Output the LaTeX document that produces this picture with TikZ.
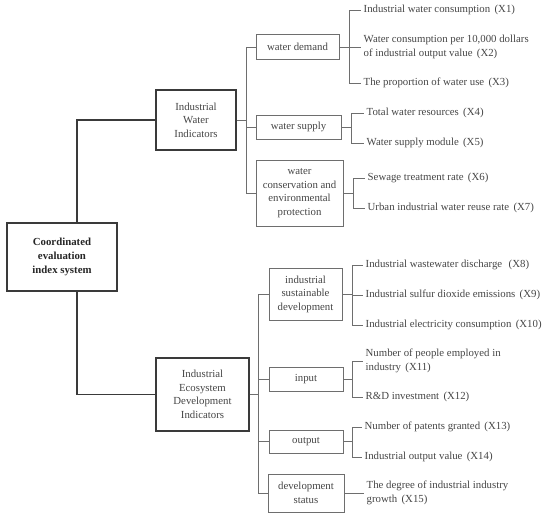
\documentclass[tikz,border=0pt]{standalone}
\usepackage{fontspec}
\setmainfont{Liberation Serif}
\usetikzlibrary{calc}
\definecolor{trunkgray}{HTML}{3A3A3A}
\definecolor{twiggray}{HTML}{6E6E6E}
\definecolor{txtgray}{HTML}{454545}

\begin{document}
\begin{tikzpicture}[x=1pt, y=-1pt,
  font=\fontsize{10.8}{13.5}\selectfont, text=txtgray,
  rootbox/.style={draw=trunkgray, line width=1.8pt, align=center, inner sep=0pt},
  mainbox/.style={draw=trunkgray, line width=1.3pt, align=center, inner sep=0pt},
  subbox/.style={draw=twiggray, line width=0.8pt, align=center, inner sep=0pt},
  leaf/.style={anchor=west, align=left, inner sep=2.5pt},
  trunk/.style={draw=trunkgray, line width=1.8pt},
  twig/.style={draw=twiggray, line width=0.8pt}]
  \useasboundingbox (0,0) rectangle (550,518);

  % root and the two main groups
  \node[rootbox, minimum width=110pt, minimum height=68pt, text=black!85] (root) at (62,257)
    {\bfseries Coordinated\\[0.5pt] \bfseries evaluation\\[0.5pt] \bfseries index system};
  \node[mainbox, minimum width=80pt, minimum height=60pt] (iwi) at (196,120)
    {Industrial\\ Water\\ Indicators};
  \node[mainbox, minimum width=93pt, minimum height=73pt] (iedi) at (202.5,394.5)
    {Industrial\\ Ecosystem\\ Development\\ Indicators};
  \draw[trunk] ($(root.north)+(15,0)$) |- (iwi.west);
  \draw[trunk] ($(root.south)+(15,0)$) |- (iedi.west);

  % (a) water indicators
  \node[subbox, minimum width=83pt, minimum height=25pt] (wd) at (297.5,47) {water demand};
  \node[subbox, minimum width=85pt, minimum height=24pt] (ws) at (298.5,127) {water supply};
  \node[subbox, minimum width=87pt, minimum height=66pt] (wcep) at (299.5,193)
    {water\\ conservation and\\ environmental\\ protection};
  \draw[twig] (iwi.east) -- ++(10,0) coordinate (b1);
  \draw[twig] (b1) |- (wd.west);
  \draw[twig] (b1) |- (ws.west);
  \draw[twig] (b1) |- (wcep.west);

  \node[leaf] (x1) at (361,10) {Industrial water consumption\hspace{0.4em}(X1)};
  \node[leaf] (x2) at (361,47) {Water consumption per 10,000 dollars\\ of industrial output value\hspace{0.4em}(X2)};
  \node[leaf] (x3) at (361,83) {The proportion of water use\hspace{0.4em}(X3)};
  \draw[twig] (wd.east) -- ++(10,0) coordinate (b2);
  \draw[twig] (b2) |- (x1.west);
  \draw[twig] (b2) -- (x2.west);
  \draw[twig] (b2) |- (x3.west);

  \node[leaf] (x4) at (364,113) {Total water resources\hspace{0.4em}(X4)};
  \node[leaf] (x5) at (364,143) {Water supply module\hspace{0.4em}(X5)};
  \draw[twig] (ws.east) -- ++(10,0) coordinate (b3);
  \draw[twig] (b3) |- (x4.west);
  \draw[twig] (b3) |- (x5.west);

  \node[leaf] (x6) at (365,178) {Sewage treatment rate\hspace{0.4em}(X6)};
  \node[leaf] (x7) at (365,208) {Urban industrial water reuse rate\hspace{0.4em}(X7)};
  \draw[twig] (wcep.east) -- ++(10,0) coordinate (b4);
  \draw[twig] (b4) |- (x6.west);
  \draw[twig] (b4) |- (x7.west);

  % (b) ecosystem development indicators
  \node[subbox, minimum width=73pt, minimum height=52pt] (isd) at (305.5,294)
    {industrial\\ sustainable\\ development};
  \node[subbox, minimum width=74pt, minimum height=24pt] (inp) at (306,379) {input};
  \node[subbox, minimum width=74pt, minimum height=23pt] (outp) at (306,441.5) {output};
  \node[subbox, minimum width=76pt, minimum height=38pt] (dev) at (306,493)
    {development\\ status};
  \draw[twig] (iedi.east) -- ++(9,0) coordinate (b5);
  \draw[twig] (b5) |- (isd.west);
  \draw[twig] (b5) |- (inp.west);
  \draw[twig] (b5) |- (outp.west);
  \draw[twig] (b5) |- (dev.west);

  \node[leaf] (x8) at (363,265) {Industrial wastewater discharge\hspace{0.6em}(X8)};
  \node[leaf] (x9) at (363,295) {Industrial sulfur dioxide emissions\hspace{0.4em}(X9)};
  \node[leaf] (x10) at (363,325) {Industrial electricity consumption\hspace{0.4em}(X10)};
  \draw[twig] (isd.east) -- ++(10,0) coordinate (b6);
  \draw[twig] (b6) |- (x8.west);
  \draw[twig] (b6) |- (x9.west);
  \draw[twig] (b6) |- (x10.west);

  \node[leaf] (x11) at (363,361) {Number of people employed in\\ industry\hspace{0.4em}(X11)};
  \node[leaf] (x12) at (363,397) {R\&D investment\hspace{0.4em}(X12)};
  \draw[twig] (inp.east) -- ++(9,0) coordinate (b7);
  \draw[twig] (b7) |- (x11.west);
  \draw[twig] (b7) |- (x12.west);

  \node[leaf] (x13) at (362,427) {Number of patents granted\hspace{0.4em}(X13)};
  \node[leaf] (x14) at (362,457) {Industrial output value\hspace{0.4em}(X14)};
  \draw[twig] (outp.east) -- ++(9,0) coordinate (b8);
  \draw[twig] (b8) |- (x13.west);
  \draw[twig] (b8) |- (x14.west);

  \node[leaf] (x15) at (364,493) {The degree of industrial industry\\ growth\hspace{0.4em}(X15)};
  \draw[twig] (dev.east) -- (x15.west);
\end{tikzpicture}
\end{document}
